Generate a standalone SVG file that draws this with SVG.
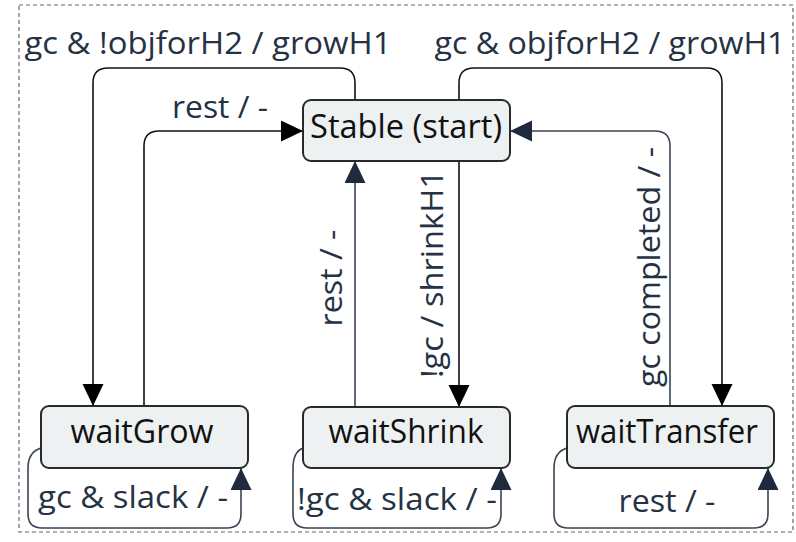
<svg xmlns="http://www.w3.org/2000/svg" width="796" height="542" viewBox="0 0 796 542">
<style>
.node rect{fill:#edf1f1;stroke:#2a2a2a;stroke-width:2}
.ntext{font-family:"Open Sans","Liberation Sans",sans-serif;font-size:32px;fill:#111;text-anchor:middle}
.lbl{font-family:"Open Sans","Liberation Sans",sans-serif;font-size:31px;fill:#243244;text-anchor:middle}
.e{fill:none;stroke-width:1.6}
.k{stroke:#111}
.n{stroke:#3a4454}
</style>
<defs>
<marker id="ak" markerUnits="userSpaceOnUse" markerWidth="22" markerHeight="22" refX="22" refY="10.5" orient="auto"><path d="M0,0 L22,10.5 L0,21 z" fill="#000"/></marker>
<marker id="an" markerUnits="userSpaceOnUse" markerWidth="22" markerHeight="22" refX="22" refY="10.5" orient="auto"><path d="M0,0 L22,10.5 L0,21 z" fill="#1f2a3c"/></marker>
</defs>
<rect x="19" y="5" width="774" height="527" fill="none" stroke="#666" stroke-width="1.2" stroke-dasharray="4 3"/>
<g id="connectors">
<path class="e k" d="M355,100 V83 Q355,68 340,68 H108 Q93,68 93,83 V406" marker-end="url(#ak)"/>
<path class="e k" d="M144,406 V146 Q144,131 159,131 H303" marker-end="url(#ak)"/>
<path class="e k" d="M459,100 V83 Q459,68 474,68 H707 Q722,68 722,83 V406" marker-end="url(#ak)"/>
<path class="e n" d="M670,406 V146 Q670,131 655,131 H510" marker-end="url(#an)"/>
<path class="e n" d="M355,407 V161" marker-end="url(#an)"/>
<path class="e k" d="M459,161 V407" marker-end="url(#ak)"/>
<path class="e n" d="M41,448 Q28,452 28,468 V514 Q28,528 42,528 H227 Q241,528 241,514 V468" marker-end="url(#an)"/>
<path class="e n" d="M303,448 Q293,452 293,468 V514 Q293,528 307,528 H487 Q501,528 501,514 V468" marker-end="url(#an)"/>
<path class="e n" d="M567,448 Q554,452 554,468 V514 Q554,528 568,528 H754 Q768,528 768,514 V468" marker-end="url(#an)"/>
<text class="lbl" x="208" y="54" textLength="367" lengthAdjust="spacingAndGlyphs">gc &amp; !objforH2 / growH1</text>
<text class="lbl" x="610" y="54" textLength="351" lengthAdjust="spacingAndGlyphs">gc &amp; objforH2 / growH1</text>
<text class="lbl" x="220" y="118" textLength="96" lengthAdjust="spacingAndGlyphs">rest / -</text>
<text class="lbl" transform="translate(342,278) rotate(-90)" x="0" y="0" textLength="97" lengthAdjust="spacingAndGlyphs">rest / -</text>
<text class="lbl" transform="translate(443,274) rotate(-90)" x="0" y="0" textLength="208" lengthAdjust="spacingAndGlyphs">!gc / shrinkH1</text>
<text class="lbl" transform="translate(660,267) rotate(-90)" x="0" y="0" textLength="240" lengthAdjust="spacingAndGlyphs">gc completed / -</text>
<text class="lbl" x="133" y="508" textLength="190" lengthAdjust="spacingAndGlyphs">gc &amp; slack / -</text>
<text class="lbl" x="397" y="510" textLength="200" lengthAdjust="spacingAndGlyphs">!gc &amp; slack / -</text>
<text class="lbl" x="667" y="512" textLength="97" lengthAdjust="spacingAndGlyphs">rest / -</text>
</g>
<g id="stable" class="node"><rect x="303" y="100" width="207" height="61" rx="8"/><text class="ntext" x="406" y="138" textLength="192" lengthAdjust="spacingAndGlyphs">Stable (start)</text></g>
<g id="waitGrow" class="node"><rect x="41" y="406" width="207" height="62" rx="8"/><text class="ntext" x="142" y="443" textLength="143" lengthAdjust="spacingAndGlyphs">waitGrow</text></g>
<g id="waitShrink" class="node"><rect x="303" y="407" width="207" height="61" rx="8"/><text class="ntext" x="406" y="443" textLength="155" lengthAdjust="spacingAndGlyphs">waitShrink</text></g>
<g id="waitTransfer" class="node"><rect x="567" y="406" width="207" height="62" rx="8"/><text class="ntext" x="667" y="443" textLength="182" lengthAdjust="spacingAndGlyphs">waitTransfer</text></g>
</svg>
